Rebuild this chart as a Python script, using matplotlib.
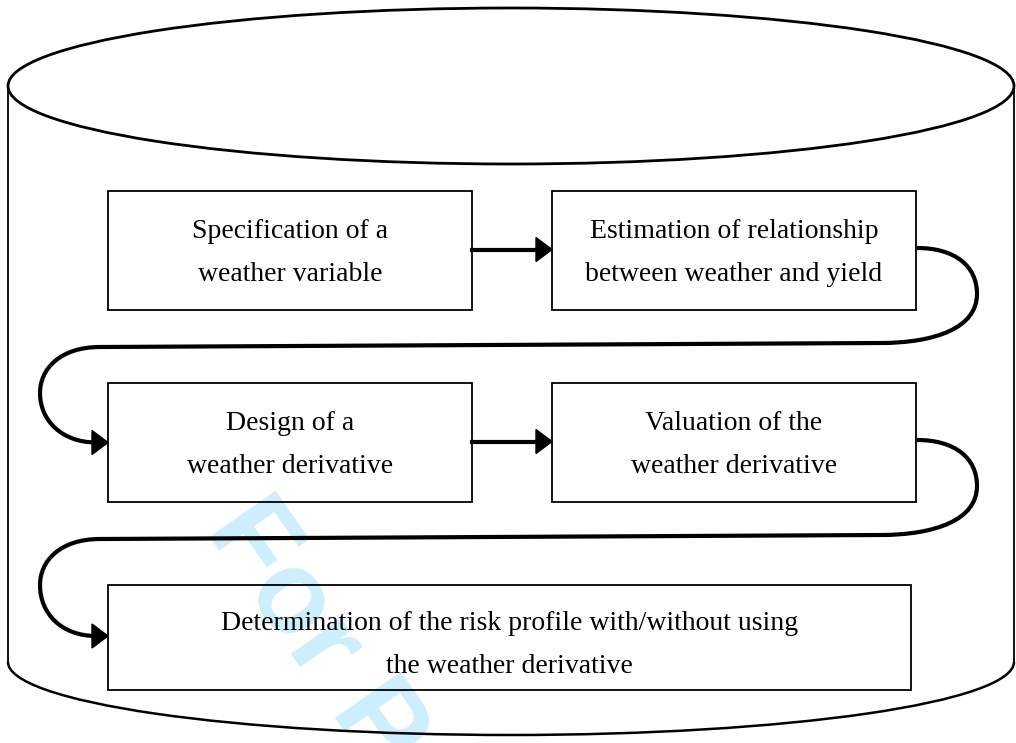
import matplotlib
matplotlib.use("Agg")
import matplotlib.pyplot as plt
from matplotlib.patches import Ellipse, Arc, Rectangle, Polygon, PathPatch
from matplotlib.path import Path

# step labels, one entry per box (two lines each)
step_lines = [
    ["Specification of a", "weather variable"],
    ["Estimation of relationship", "between weather and yield"],
    ["Design of a", "weather derivative"],
    ["Valuation of the", "weather derivative"],
    ["Determination of the risk profile with/without using", "the weather derivative"],
]
# box frames in pixel units: left, top, right, bottom
box_frames = [
    (108, 191, 472, 310),
    (552, 191, 916, 310),
    (108, 383, 472, 502),
    (552, 383, 916, 502),
    (108, 585, 911, 690),
]
watermark = "For Peer Review"

fig = plt.figure(figsize=(10.16, 7.43), dpi=100)
ax = fig.add_axes([0, 0, 1, 1])
ax.set_xlim(0, 1016)
ax.set_ylim(743, 0)
ax.axis("off")

# watermark behind everything
ax.text(204, 530, watermark, rotation=-55, rotation_mode="anchor",
        ha="left", va="baseline", fontsize=84, fontweight="bold",
        family="Liberation Sans", color="#cdeefc", zorder=0, clip_on=True)

# cylinder
ax.add_patch(Ellipse((511, 86), 1006, 156, fill=False, lw=2.0, ec="black", zorder=2))
ax.plot([8, 8], [86, 662], color="black", lw=1.3, zorder=2)
ax.plot([1014, 1014], [86, 662], color="black", lw=1.3, zorder=2)
ax.add_patch(Arc((511, 662), 1006, 146, theta1=0, theta2=180, lw=1.8, ec="black", zorder=2))

# boxes and labels
for i, ((l, t, r, b), lines) in enumerate(zip(box_frames, step_lines)):
    ax.add_patch(Rectangle((l, t), r - l, b - t, fill=True, fc="none", ec="black", lw=1.3, zorder=3))
    cx = (l + r) / 2
    cy = (t + b) / 2
    d1, d2 = (-14, 29) if i == 4 else (-19, 24)
    ax.text(cx, cy + d1, lines[0], ha="center", va="center", fontsize=20,
            family="Liberation Serif", zorder=4)
    ax.text(cx, cy + d2, lines[1], ha="center", va="center", fontsize=20,
            family="Liberation Serif", zorder=4)


def head(tip_x, tip_y):
    ax.add_patch(Polygon([(tip_x, tip_y), (tip_x - 16, tip_y - 12), (tip_x - 16, tip_y + 12)],
                         closed=True, fc="black", ec="black", zorder=5))


# straight arrows between boxes in a row
for row in (0, 2):
    y = (box_frames[row][1] + box_frames[row][3]) / 2 - 1
    ax.plot([box_frames[row][2], box_frames[row + 1][0] - 14], [y, y], color="black", lw=3, zorder=5)
    head(box_frames[row + 1][0], y)

# curved connectors from the right box of a row to the next row
for src, dst in ((1, 2), (3, 4)):
    y0 = box_frames[src][1] + 57
    yt = (box_frames[dst][1] + box_frames[dst][3]) / 2 if dst < 4 else box_frames[dst][1] + 51
    ym = y0 + 95
    verts = [
        (917, y0), (955, y0), (977, y0 + 18), (977, y0 + 46),
        (977, y0 + 80), (935, ym), (880, ym),
        (100, ym + 4),
        (60, ym + 4), (40, ym + 26), (40, ym + 50),
        (40, yt - 22), (62, yt), (96, yt),
    ]
    codes = [Path.MOVETO, Path.CURVE4, Path.CURVE4, Path.CURVE4,
             Path.CURVE4, Path.CURVE4, Path.CURVE4,
             Path.LINETO,
             Path.CURVE4, Path.CURVE4, Path.CURVE4,
             Path.CURVE4, Path.CURVE4, Path.CURVE4]
    ax.add_patch(PathPatch(Path(verts, codes), fill=False, lw=3, ec="black", zorder=5))
    head(box_frames[dst][0], yt)

fig.savefig("out.png", dpi=100)
